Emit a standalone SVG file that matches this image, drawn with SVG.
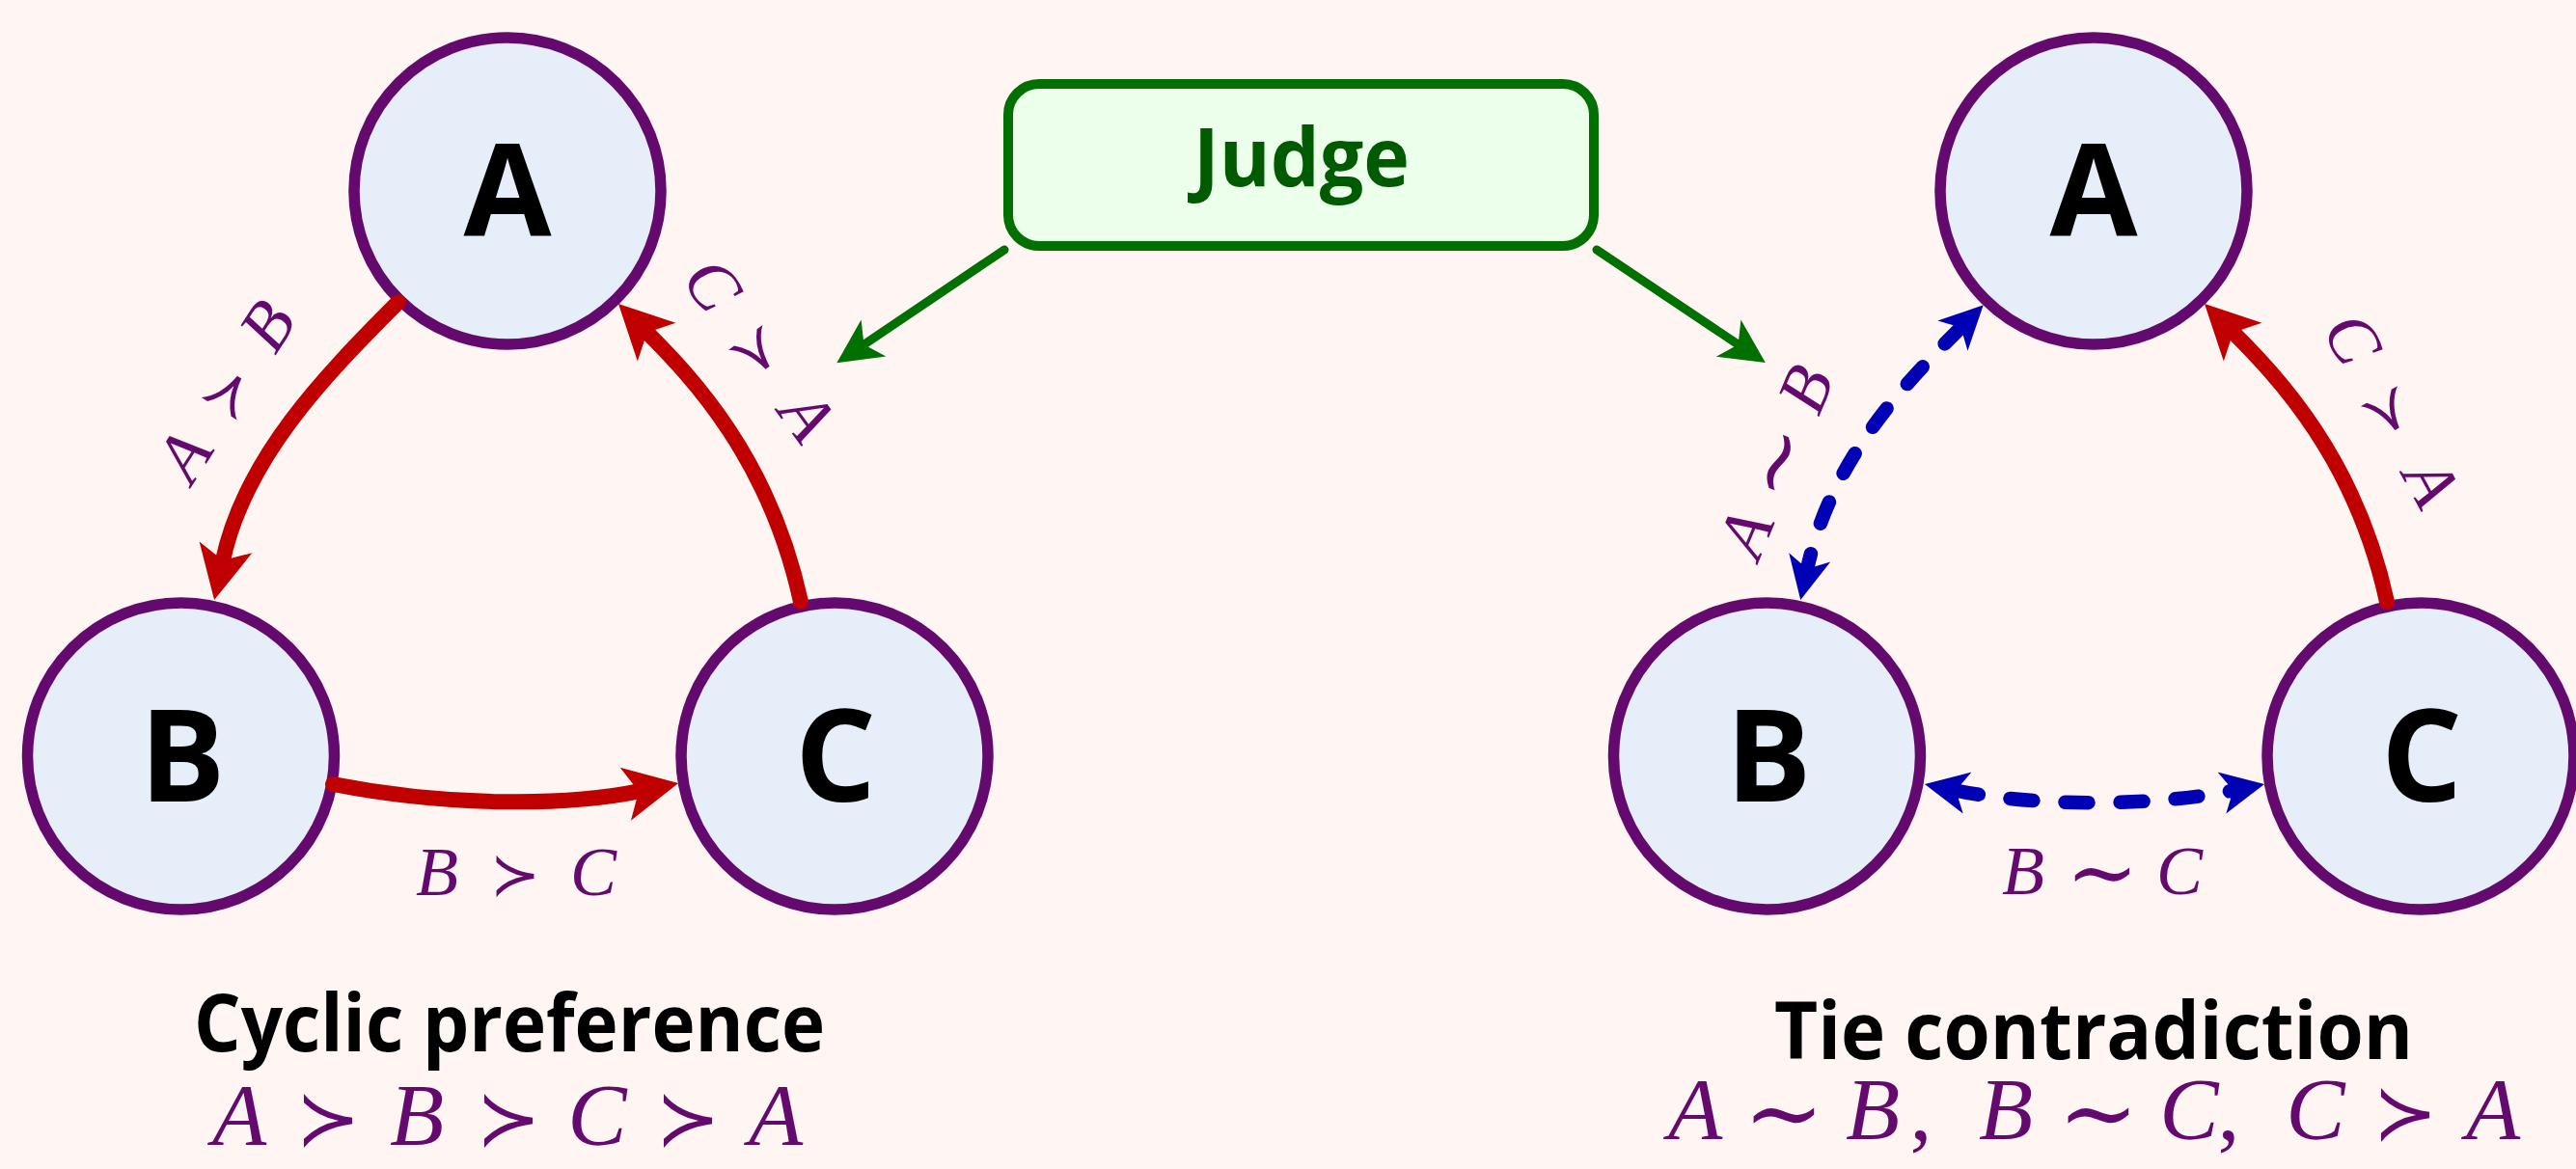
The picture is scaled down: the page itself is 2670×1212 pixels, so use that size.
<svg xmlns="http://www.w3.org/2000/svg" width="2670" height="1212" viewBox="0 0 2670 1212">
  <style>
    .node circle { fill: #e6eefa; stroke: #640a6e; stroke-width: 11.5px; }
    .node text { font-family: "Open Sans", "DejaVu Sans", sans-serif; font-weight: 700; font-size: 132px; fill: #000; text-anchor: middle; }
    .judge rect { fill: #ebffea; stroke: #007000; stroke-width: 10px; }
    .judge text { font-family: "Open Sans", "DejaVu Sans", sans-serif; font-weight: 700; font-size: 84px; fill: #005a00; text-anchor: middle; }
    .red { fill: none; stroke: #c00000; stroke-width: 16px; stroke-linecap: round; }
    .blue { fill: none; stroke: #0000b4; stroke-width: 14.5px; stroke-linecap: round; stroke-dasharray: 24 33; }
    .green { fill: none; stroke: #007000; stroke-width: 9px; stroke-linecap: round; }
    .math { font-family: "Liberation Serif", "Times New Roman", serif; font-style: italic; fill: #640a6e; text-anchor: middle; }
    .rel { font-family: "DejaVu Sans", "DejaVu Serif", sans-serif; font-style: normal; font-weight: 400; }
    .sim { font-family: "DejaVu Serif", "DejaVu Sans", serif; font-style: normal; font-weight: 400; }
    .punct { font-style: normal; }
    .lbl { font-size: 72px; }
    .lbl .rel { font-size: 62px; }
    .lbl .sim { font-size: 90px; }
    .title { font-family: "Open Sans", "DejaVu Sans", sans-serif; font-weight: 700; font-size: 83px; fill: #000; text-anchor: middle; }
    .formula { font-size: 92px; }
    .formula .rel { font-size: 80px; }
    .formula .sim { font-size: 100px; }
  </style>
  <defs>
    <marker id="ah-red" markerUnits="userSpaceOnUse" viewBox="0 -32 64 64" markerWidth="64" markerHeight="64" refX="14" refY="0" orient="auto">
      <path d="M0,-28 L56,0 L0,28 L14,0 Z" fill="#c00000"/>
    </marker>
    <marker id="ah-blue" markerUnits="userSpaceOnUse" viewBox="0 -26 52 52" markerWidth="52" markerHeight="52" refX="12" refY="0" orient="auto-start-reverse">
      <path d="M0,-22 L45,0 L0,22 L12,0 Z" fill="#0000b4"/>
    </marker>
    <marker id="ah-green" markerUnits="userSpaceOnUse" viewBox="0 -26 52 52" markerWidth="52" markerHeight="52" refX="12" refY="0" orient="auto">
      <path d="M0,-23 L46,0 L0,23 L12,0 Z" fill="#007000"/>
    </marker>
  </defs>

  <rect x="0" y="0" width="2670" height="1212" fill="#fff5f2"/>

  <!-- Judge box -->
  <g id="judge" class="judge">
    <rect x="1045" y="87" width="607" height="168" rx="32" ry="32"/>
    <text x="1349" y="193" textLength="224" lengthAdjust="spacingAndGlyphs">Judge</text>
  </g>

  <!-- Left panel: cyclic preference -->
  <g id="left-A" class="node">
    <circle cx="526" cy="198" r="159"/>
    <text x="526" y="245">A</text>
  </g>
  <g id="left-B" class="node">
    <circle cx="187.5" cy="784" r="159"/>
    <text x="189" y="831">B</text>
  </g>
  <g id="left-C" class="node">
    <circle cx="865" cy="784" r="159"/>
    <text x="866" y="831">C</text>
  </g>

  <!-- Right panel: tie contradiction -->
  <g id="right-A" class="node">
    <circle cx="2170" cy="198" r="159"/>
    <text x="2170" y="245">A</text>
  </g>
  <g id="right-B" class="node">
    <circle cx="1831.5" cy="784" r="159"/>
    <text x="1833" y="831">B</text>
  </g>
  <g id="right-C" class="node">
    <circle cx="2509" cy="784" r="159"/>
    <text x="2510" y="831">C</text>
  </g>

  <!-- Connectors -->
  <g id="connectors">
    <path class="green" d="M1041,259 L895.5,357.2" marker-end="url(#ah-green)"/>
    <path class="green" d="M1655,259 L1801.6,357.2" marker-end="url(#ah-green)"/>

    <path class="red" d="M413,313 C335,391 254,475 231,581" marker-end="url(#ah-red)"/>
    <path class="red" d="M345,813 C462,836 586,836 662,820.4" marker-end="url(#ah-red)"/>
    <path class="red" d="M830,624 C798,476 717,391 670.7,344.7" marker-end="url(#ah-red)"/>

    <path class="blue" d="M2032.4,339.6 C1977,395 1898,475 1873.2,589.7" marker-start="url(#ah-blue)" marker-end="url(#ah-blue)"/>
    <path class="blue" d="M2027.3,819.6 C2110,836.4 2232,836.4 2314.7,819.6" marker-start="url(#ah-blue)" marker-end="url(#ah-blue)"/>
    <path class="red" d="M2474,624 C2442,476 2361,391 2314.7,344.7" marker-end="url(#ah-red)"/>
  </g>

  <!-- Edge labels -->
  <g id="edge-labels" class="math lbl">
    <text transform="translate(234.5,405.5) rotate(-57.4)" y="23"><tspan x="-80">A</tspan><tspan x="0" class="rel">≻</tspan><tspan x="80">B</tspan></text>
    <text x="0" y="928"><tspan x="453">B</tspan><tspan x="534" class="rel">≻</tspan><tspan x="615">C</tspan></text>
    <text transform="translate(787,363.5) rotate(54)" y="23"><tspan x="-84">C</tspan><tspan x="0" class="rel">≻</tspan><tspan x="84">A</tspan></text>

    <text transform="translate(1841,478.5) rotate(-67.4)"><tspan x="-81" y="23">A</tspan><tspan x="0" y="31" class="sim">∼</tspan><tspan x="81" y="23">B</tspan></text>
    <text><tspan x="2097" y="927">B</tspan><tspan x="2179" y="935" class="sim">∼</tspan><tspan x="2259" y="927">C</tspan></text>
    <text transform="translate(2478.5,426) rotate(61.3)" y="23"><tspan x="-85">C</tspan><tspan x="0" class="rel">≻</tspan><tspan x="85">A</tspan></text>
  </g>

  <!-- Captions -->
  <g id="caption-left">
    <text class="title" x="528" y="1090" textLength="654" lengthAdjust="spacingAndGlyphs">Cyclic preference</text>
    <text class="math formula" y="1187"><tspan x="248">A</tspan><tspan x="340" class="rel">≻</tspan><tspan x="432">B</tspan><tspan x="527" class="rel">≻</tspan><tspan x="619">C</tspan><tspan x="713" class="rel">≻</tspan><tspan x="804">A</tspan></text>
  </g>
  <g id="caption-right">
    <text class="title" x="2170" y="1098" textLength="662" lengthAdjust="spacingAndGlyphs">Tie contradiction</text>
    <text class="math formula"><tspan x="1757" y="1181">A</tspan><tspan x="1849" y="1188" class="sim">∼</tspan><tspan x="1941" y="1181">B</tspan><tspan x="1991" y="1181" class="punct">,</tspan><tspan x="2079" y="1181">B</tspan><tspan x="2175" y="1188" class="sim">∼</tspan><tspan x="2269" y="1181">C</tspan><tspan x="2310" y="1181" class="punct">,</tspan><tspan x="2400" y="1181">C</tspan><tspan x="2493" y="1181" class="rel">≻</tspan><tspan x="2584" y="1181">A</tspan></text>
  </g>
</svg>
